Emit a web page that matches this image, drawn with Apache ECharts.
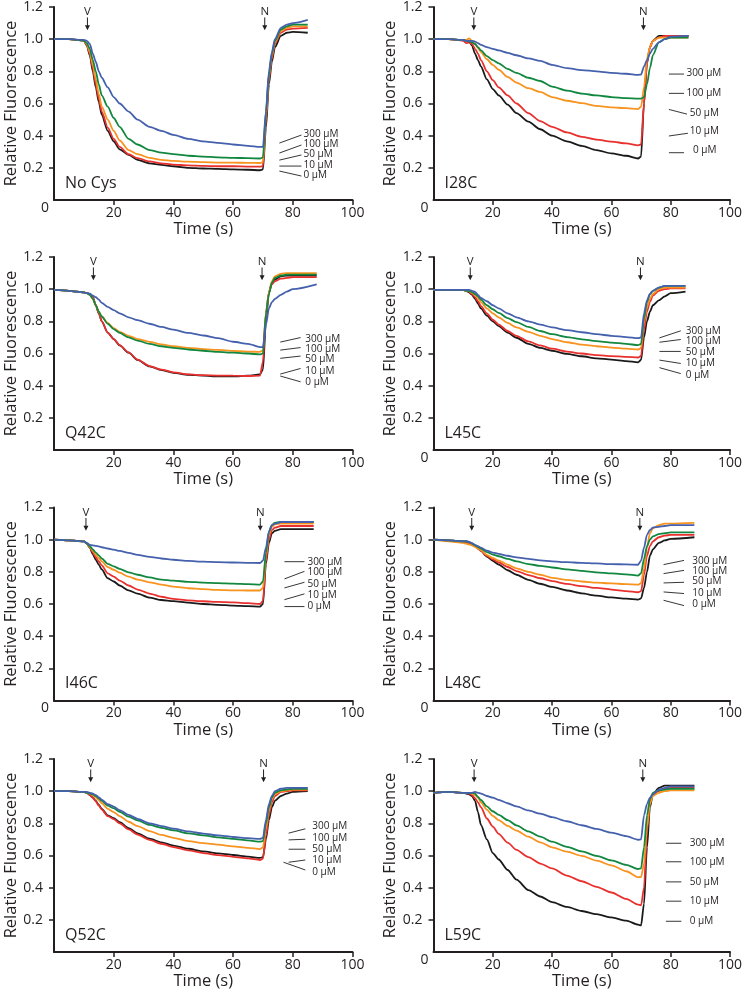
<!DOCTYPE html>
<html><head><meta charset="utf-8">
<script src="https://cdn.jsdelivr.net/npm/echarts@6/dist/echarts.min.js"></script>
<style>html,body{margin:0;padding:0;background:#fff}#c{width:745px;height:995px}</style>
</head><body><div id="c"></div>
<script>
// ---------- DATA ----------
const time = [0,5,10,11,12,13,14,15,16,18,20,22,25,28,32,36,40,45,50,55,60,65,69,70,71,72,73,74,76,78,80];
const endTime = [85,86,88,85,87,88,85,88];
const panelNames = ['No Cys','I28C','Q42C','L45C','I46C','L48C','Q52C','L59C'];
const concLabels = ['300 μM','100 μM','50 μM','10 μM','0 μM'];
const xTicks = [0,20,40,60,80,100];
const yTicks = [0.2,0.4,0.6,0.8,1.0,1.2];

// No Cys
const noCys_0   = [1.0,1.0,0.99,0.96,0.9,0.8,0.7,0.61,0.53,0.43,0.365,0.315,0.28,0.25,0.228,0.218,0.21,0.2,0.196,0.193,0.19,0.188,0.185,0.19,0.45,0.72,0.86,0.95,1.02,1.04,1.045,1.04];
const noCys_10  = [1.0,1.0,0.99,0.965,0.91,0.82,0.72,0.63,0.55,0.45,0.38,0.33,0.285,0.26,0.24,0.228,0.22,0.215,0.212,0.21,0.21,0.208,0.207,0.21,0.5,0.75,0.88,0.97,1.04,1.06,1.065,1.07];
const noCys_50  = [1.0,1.0,0.99,0.97,0.92,0.84,0.75,0.66,0.58,0.5,0.43,0.37,0.31,0.285,0.262,0.25,0.243,0.238,0.235,0.233,0.232,0.231,0.23,0.235,0.52,0.77,0.9,0.98,1.05,1.07,1.08,1.08];
const noCys_100 = [1.0,1.0,0.99,0.975,0.94,0.87,0.8,0.72,0.65,0.58,0.51,0.455,0.38,0.345,0.31,0.295,0.285,0.275,0.27,0.265,0.262,0.26,0.258,0.265,0.55,0.78,0.91,0.99,1.06,1.08,1.09,1.09];
const noCys_300 = [1.0,1.0,0.995,0.99,0.97,0.91,0.86,0.8,0.76,0.7,0.64,0.6,0.55,0.5,0.455,0.43,0.405,0.38,0.365,0.355,0.345,0.337,0.33,0.33,0.55,0.8,0.92,1.0,1.07,1.09,1.1,1.12];
// I28C
const i28c_0   = [1.0,1.0,0.995,0.99,0.985,0.96,0.91,0.87,0.83,0.75,0.69,0.65,0.593,0.54,0.487,0.44,0.40,0.365,0.337,0.31,0.29,0.275,0.258,0.27,0.6,0.85,0.95,0.99,1.02,1.02,1.02,1.02];
const i28c_10  = [1.0,1.0,0.99,0.975,0.98,0.97,0.94,0.91,0.87,0.8,0.745,0.7,0.65,0.6,0.54,0.49,0.455,0.42,0.393,0.375,0.363,0.352,0.34,0.345,0.6,0.85,0.95,0.99,1.01,1.02,1.02,1.02];
const i28c_50  = [1.0,1.0,0.995,0.995,1.005,0.99,0.97,0.945,0.92,0.875,0.84,0.81,0.765,0.73,0.695,0.672,0.64,0.617,0.602,0.585,0.576,0.571,0.565,0.58,0.7,0.88,0.95,0.99,1.01,1.01,1.01,1.01];
const i28c_100 = [1.0,1.0,0.995,0.99,0.985,0.98,0.97,0.95,0.93,0.895,0.87,0.85,0.815,0.79,0.76,0.74,0.705,0.68,0.662,0.65,0.64,0.633,0.63,0.63,0.64,0.72,0.82,0.9,0.98,1.0,1.01,1.01];
const i28c_300 = [1.0,1.0,0.995,0.99,0.99,0.99,0.985,0.975,0.965,0.95,0.94,0.93,0.915,0.9,0.88,0.865,0.84,0.82,0.808,0.8,0.79,0.785,0.778,0.78,0.83,0.87,0.91,0.94,0.98,1.0,1.015,1.02];
// Q42C
const q42c_0   = [0.995,0.99,0.98,0.975,0.97,0.95,0.9,0.85,0.8,0.73,0.69,0.65,0.605,0.56,0.52,0.497,0.48,0.468,0.462,0.458,0.458,0.462,0.47,0.5,0.8,0.98,1.04,1.06,1.08,1.085,1.085,1.085];
const q42c_10  = [0.995,0.99,0.98,0.975,0.97,0.95,0.9,0.85,0.8,0.73,0.69,0.652,0.607,0.562,0.522,0.5,0.483,0.47,0.465,0.463,0.462,0.46,0.463,0.55,0.85,0.98,1.03,1.05,1.065,1.07,1.075,1.075];
const q42c_50  = [0.995,0.99,0.98,0.975,0.965,0.94,0.9,0.86,0.83,0.79,0.757,0.735,0.71,0.69,0.672,0.657,0.645,0.635,0.627,0.622,0.616,0.612,0.61,0.62,0.85,0.98,1.05,1.08,1.095,1.1,1.1,1.1];
const q42c_100 = [0.995,0.99,0.98,0.975,0.965,0.94,0.9,0.86,0.83,0.785,0.752,0.728,0.7,0.68,0.66,0.645,0.635,0.625,0.617,0.61,0.605,0.6,0.594,0.6,0.85,0.97,1.04,1.07,1.085,1.09,1.09,1.09];
const q42c_300 = [0.995,0.99,0.98,0.975,0.972,0.96,0.95,0.935,0.915,0.89,0.87,0.85,0.825,0.807,0.785,0.765,0.748,0.728,0.712,0.695,0.673,0.66,0.64,0.64,0.78,0.88,0.92,0.94,0.965,0.985,1.0,1.03];
// L45C
const l45c_0   = [0.995,0.995,0.995,0.99,0.98,0.965,0.94,0.91,0.88,0.835,0.8,0.77,0.73,0.698,0.66,0.635,0.617,0.598,0.583,0.57,0.562,0.553,0.545,0.56,0.7,0.8,0.86,0.9,0.93,0.955,0.975,0.985];
const l45c_10  = [0.995,0.995,0.995,0.99,0.985,0.97,0.95,0.925,0.895,0.85,0.81,0.78,0.74,0.71,0.675,0.65,0.63,0.612,0.6,0.59,0.584,0.579,0.575,0.585,0.75,0.86,0.92,0.96,0.99,1.0,1.005,1.005];
const l45c_50  = [0.995,0.995,0.995,0.99,0.988,0.978,0.962,0.945,0.92,0.88,0.85,0.825,0.79,0.762,0.735,0.71,0.69,0.67,0.655,0.645,0.637,0.63,0.625,0.635,0.8,0.89,0.94,0.97,1.0,1.01,1.01,1.01];
const l45c_100 = [0.995,0.995,0.995,0.99,0.99,0.982,0.97,0.955,0.935,0.9,0.875,0.852,0.82,0.795,0.765,0.74,0.72,0.702,0.688,0.677,0.668,0.66,0.652,0.66,0.82,0.92,0.97,0.99,1.01,1.02,1.02,1.02];
const l45c_300 = [0.995,0.995,0.995,0.995,0.995,0.99,0.983,0.965,0.945,0.925,0.9,0.88,0.85,0.825,0.8,0.78,0.762,0.745,0.732,0.72,0.71,0.702,0.695,0.7,0.85,0.93,0.97,0.99,1.01,1.02,1.02,1.02];
// I46C
const i46c_0   = [1.0,0.995,0.99,0.975,0.95,0.91,0.875,0.845,0.815,0.76,0.74,0.715,0.685,0.665,0.64,0.625,0.618,0.608,0.6,0.595,0.59,0.587,0.584,0.6,0.85,0.98,1.04,1.055,1.065,1.065,1.065,1.065];
const i46c_10  = [1.0,0.995,0.99,0.975,0.955,0.92,0.89,0.865,0.84,0.79,0.77,0.745,0.715,0.69,0.665,0.645,0.632,0.623,0.617,0.613,0.61,0.605,0.6,0.62,0.87,1.0,1.06,1.075,1.085,1.085,1.085,1.085];
const i46c_50  = [1.0,0.995,0.99,0.975,0.955,0.93,0.905,0.886,0.865,0.83,0.813,0.795,0.77,0.752,0.735,0.72,0.708,0.698,0.692,0.688,0.685,0.684,0.684,0.7,0.9,1.03,1.08,1.095,1.1,1.1,1.1,1.1];
const i46c_100 = [1.0,0.995,0.99,0.975,0.96,0.94,0.92,0.902,0.883,0.85,0.834,0.818,0.797,0.782,0.765,0.752,0.745,0.738,0.733,0.73,0.727,0.724,0.72,0.74,0.92,1.05,1.09,1.105,1.11,1.11,1.11,1.11];
const i46c_300 = [1.0,0.995,0.99,0.98,0.967,0.965,0.962,0.958,0.953,0.945,0.938,0.93,0.918,0.905,0.893,0.883,0.875,0.868,0.863,0.86,0.858,0.856,0.855,0.87,0.95,1.05,1.09,1.1,1.11,1.11,1.11,1.11];
// L48C
const l48c_0   = [1.0,0.995,0.99,0.99,0.985,0.975,0.96,0.945,0.93,0.895,0.868,0.845,0.81,0.782,0.75,0.726,0.706,0.684,0.666,0.652,0.641,0.633,0.627,0.635,0.7,0.8,0.9,0.94,0.98,0.995,1.005,1.015];
const l48c_10  = [1.0,0.995,0.985,0.98,0.975,0.968,0.958,0.945,0.93,0.9,0.877,0.858,0.83,0.805,0.78,0.76,0.742,0.725,0.711,0.7,0.69,0.68,0.673,0.68,0.78,0.9,0.96,0.99,1.015,1.025,1.03,1.03];
const l48c_50  = [1.0,0.99,0.98,0.975,0.97,0.965,0.955,0.945,0.935,0.905,0.887,0.87,0.845,0.822,0.8,0.782,0.763,0.75,0.74,0.733,0.728,0.724,0.72,0.73,0.82,0.95,1.04,1.07,1.09,1.1,1.1,1.105];
const l48c_100 = [1.0,0.995,0.99,0.99,0.985,0.975,0.965,0.955,0.945,0.923,0.907,0.897,0.88,0.865,0.848,0.837,0.827,0.815,0.806,0.797,0.79,0.784,0.777,0.79,0.88,0.96,1.0,1.02,1.035,1.04,1.045,1.045];
const l48c_300 = [1.0,0.995,0.99,0.99,0.985,0.978,0.968,0.96,0.95,0.932,0.92,0.912,0.9,0.89,0.88,0.871,0.865,0.86,0.856,0.852,0.848,0.846,0.844,0.87,0.95,1.03,1.06,1.075,1.08,1.085,1.09,1.09];
// Q52C
const q52c_0   = [1.0,1.0,0.995,0.99,0.975,0.96,0.94,0.915,0.89,0.85,0.832,0.807,0.77,0.738,0.705,0.682,0.662,0.642,0.626,0.613,0.603,0.593,0.585,0.59,0.7,0.82,0.9,0.94,0.97,0.985,0.995,1.0];
const q52c_10  = [1.0,1.0,0.995,0.99,0.975,0.958,0.937,0.91,0.885,0.845,0.826,0.8,0.762,0.73,0.697,0.673,0.653,0.632,0.615,0.602,0.592,0.582,0.572,0.58,0.72,0.85,0.93,0.97,0.995,1.0,1.005,1.005];
const q52c_50  = [1.0,1.0,0.995,0.99,0.985,0.975,0.96,0.945,0.925,0.89,0.87,0.845,0.81,0.783,0.752,0.728,0.71,0.69,0.677,0.667,0.657,0.648,0.64,0.65,0.77,0.88,0.95,0.98,1.0,1.005,1.01,1.01];
const q52c_100 = [1.0,1.0,0.995,0.99,0.985,0.98,0.97,0.955,0.94,0.91,0.894,0.872,0.842,0.818,0.79,0.772,0.757,0.738,0.725,0.713,0.703,0.694,0.686,0.69,0.8,0.9,0.96,0.99,1.005,1.01,1.015,1.015];
const q52c_300 = [1.0,1.0,0.995,0.995,0.99,0.985,0.975,0.962,0.948,0.92,0.904,0.882,0.852,0.828,0.8,0.783,0.767,0.75,0.736,0.725,0.715,0.708,0.703,0.71,0.82,0.92,0.97,1.0,1.015,1.02,1.02,1.02];
// L59C
const l59c_0   = [0.99,0.995,0.99,0.985,0.98,0.97,0.94,0.87,0.79,0.7,0.615,0.575,0.51,0.45,0.385,0.345,0.31,0.28,0.255,0.235,0.215,0.195,0.17,0.165,0.3,0.65,0.9,0.98,1.02,1.035,1.035,1.035];
const l59c_10  = [0.99,0.995,0.99,0.99,0.985,0.975,0.955,0.93,0.9,0.83,0.78,0.735,0.68,0.635,0.59,0.55,0.52,0.475,0.44,0.405,0.37,0.33,0.295,0.29,0.4,0.75,0.93,0.98,1.0,1.015,1.02,1.02];
const l59c_50  = [0.99,0.995,0.99,0.99,0.99,0.985,0.975,0.96,0.93,0.885,0.846,0.82,0.784,0.755,0.717,0.682,0.651,0.624,0.598,0.568,0.539,0.502,0.465,0.465,0.55,0.78,0.92,0.97,0.99,1.0,1.005,1.005];
const l59c_100 = [0.99,0.995,0.99,0.99,0.99,0.99,0.985,0.965,0.945,0.906,0.875,0.853,0.82,0.787,0.75,0.717,0.686,0.654,0.626,0.598,0.57,0.542,0.516,0.52,0.65,0.85,0.95,0.99,1.005,1.01,1.015,1.015];
const l59c_300 = [0.99,0.995,0.99,0.99,0.99,0.99,0.995,0.99,0.985,0.97,0.96,0.946,0.925,0.905,0.88,0.86,0.838,0.813,0.788,0.765,0.742,0.72,0.698,0.7,0.85,0.92,0.96,0.98,1.01,1.02,1.03,1.03];

// series per panel, ordered 0,10,50,100,300 µM (drawing order)
const panelSeries = [
  [noCys_0, noCys_10, noCys_50, noCys_100, noCys_300],
  [i28c_0, i28c_10, i28c_50, i28c_100, i28c_300],
  [q42c_0, q42c_10, q42c_50, q42c_100, q42c_300],
  [l45c_0, l45c_10, l45c_50, l45c_100, l45c_300],
  [i46c_0, i46c_10, i46c_50, i46c_100, i46c_300],
  [l48c_0, l48c_10, l48c_50, l48c_100, l48c_300],
  [q52c_0, q52c_10, q52c_50, q52c_100, q52c_300],
  [l59c_0, l59c_10, l59c_50, l59c_100, l59c_300]
];
const seriesConc = ['0 μM','10 μM','50 μM','100 μM','300 μM'];
const vTime = [11.2,13.6,13.2,12.4,10.7,12.9,12.3,13.7];
const nTime = [70.6,70.8,69.7,69.8,69.1,69.6,70.2,70.6];
const showZero = [true,true,false,true,true,true,false,true];

// ---------- STYLE / LAYOUT ----------
const colors = ['#1a1a1a','#e8312f','#f7931e','#11873f','#4561ad'];
const ink = '#231f20';
const FONT = "'Open Sans','Noto Sans',sans-serif";
const colLeft = [54, 433.5];
const rowTop = [7, 257, 507.5, 759];
const gW = 298.5, gH = 193;

// legend annotation layout (data coords): [textT, textV, lineT1, lineV1, lineT2, lineV2] for 300,100,50,10,0
const legendLayout = [
  [[83.6,.41,75.5,.354,82.9,.404],[83.6,.348,75.5,.292,82.9,.342],[83.6,.283,75.5,.248,82.9,.28],[83.6,.217,75.5,.211,82.9,.211],[83.6,.155,75.5,.18,82.9,.149]],
  [[85.3,.787,79.4,.783,84.5,.783],[85.3,.663,79.4,.663,84.5,.663],[86.4,.542,79.4,.563,85.5,.534],[86.4,.428,79.4,.398,85.8,.415],[87.5,.311,79.4,.294,84.5,.294]],
  [[84.2,.689,75.8,.671,82.6,.699],[84.2,.625,75.8,.621,82.6,.637],[84.2,.563,75.8,.570,82.6,.584],[84.2,.493,75.8,.472,82.6,.507],[84.2,.424,75.8,.460,82.6,.424]],
  [[85.1,.741,76.2,.697,83.4,.741],[85.1,.675,76.2,.670,83.4,.687],[85.1,.609,76.2,.613,83.4,.613],[85.1,.538,76.2,.559,83.4,.538],[85.1,.468,76.2,.512,83.4,.475]],
  [[84.9,.858,77.2,.863,83.9,.863],[84.9,.797,77.2,.756,83.9,.803],[84.9,.725,77.2,.700,83.9,.735],[84.9,.656,77.2,.627,83.9,.663],[84.9,.585,77.2,.584,83.9,.584]],
  [[87.3,.865,77.6,.845,84.5,.871],[87.3,.803,77.6,.789,84.5,.809],[87.3,.739,77.6,.731,84.5,.735],[87.3,.665,77.6,.675,84.5,.665],[87.3,.596,77.6,.623,84.5,.590]],
  [[86.5,.78,78.6,.739,84.2,.766],[86.5,.708,78.6,.697,84.2,.701],[86.5,.639,78.6,.639,84.2,.639],[86.5,.568,78.6,.558,84.2,.572],[86.5,.499,76.9,.558,84.2,.51]],
  [[86.4,.676,78.4,.676,83.6,.676],[86.4,.561,78.4,.561,83.6,.561],[86.4,.436,78.4,.436,83.6,.436],[86.4,.316,78.4,.316,83.6,.316],[86.4,.191,78.4,.191,83.6,.191]]
];

const chart = echarts.init(document.getElementById('c'), null, {renderer:'canvas'});
const grids = [], xAxes = [], yAxes = [], series = [];
for (let i = 0; i < 8; i++) {
  const col = i % 2, row = Math.floor(i / 2);
  grids.push({left: colLeft[col], top: rowTop[row], width: gW, height: gH});
  xAxes.push({
    type:'value', gridIndex:i, min:xTicks[0], max:xTicks[xTicks.length-1], interval:20,
    name:'Time (s)', nameLocation:'middle', nameGap:21,
    nameTextStyle:{fontFamily:FONT, fontSize:16.5, color:ink},
    axisLine:{show:true, onZero:false, lineStyle:{color:ink, width:2}},
    axisTick:{show:true, length:5, lineStyle:{color:ink, width:1.5}},
    axisLabel:{fontFamily:FONT, fontSize:14, color:ink, margin:6, showMinLabel:false,
      formatter: v => String(v)},
    splitLine:{show:false}
  });
  yAxes.push({
    type:'value', gridIndex:i, min:0, max:1.2, interval:0.2,
    name:'Relative Fluorescence', nameLocation:'middle', nameGap:33, nameRotate:90,
    nameTextStyle:{fontFamily:FONT, fontSize:16.5, color:ink},
    axisLine:{show:true, onZero:false, lineStyle:{color:ink, width:2}},
    axisTick:{show:true, length:5, lineStyle:{color:ink, width:1.5}},
    axisLabel:{fontFamily:FONT, fontSize:14, color:ink, margin:11, showMinLabel:false,
      formatter: v => yTicks.some(t => Math.abs(t - v) < 1e-6) ? v.toFixed(1) : ''},
    splitLine:{show:false}
  });
  const tAll = time.concat([endTime[i]]);
  panelSeries[i].forEach((vals, k) => {
    series.push({
      type:'line', name: panelNames[i] + ' ' + seriesConc[k], xAxisIndex:i, yAxisIndex:i,
      data: tAll.map((t, j) => [t, vals[j]]),
      showSymbol:false, smooth:0.25, smoothMonotone:'x',
      lineStyle:{color:colors[k], width:1.8}, itemStyle:{color:colors[k]},
      silent:true, animation:false
    });
  });
}
chart.setOption({
  animation:false, backgroundColor:'#fff',
  textStyle:{fontFamily:FONT},
  grid:grids, xAxis:xAxes, yAxis:yAxes, series:series
});

// annotations positioned through the axes
const g = [];
const P = (i, t, v) => chart.convertToPixel({gridIndex:i}, [t, v]);
for (let i = 0; i < 8; i++) {
  // panel label
  const pl = P(i, 3.7, 0.105);
  g.push({type:'text', x:pl[0], y:pl[1], style:{text:panelNames[i], fontFamily:FONT, fontSize:16, fill:ink, align:'left', verticalAlign:'middle'}});
  // origin "0"
  if (showZero[i]) {
    const o = P(i, 0, 0);
    g.push({type:'text', x:o[0]-9, y:o[1]+8, style:{text:'0', fontFamily:FONT, fontSize:14, fill:ink, align:'center', verticalAlign:'middle'}});
  }
  // V and N arrows
  [[vTime[i],'V'],[nTime[i],'N']].forEach(([t, lab]) => {
    const a = P(i, t, 1.17), b = P(i, t, 1.135), c = P(i, t, 1.055);
    g.push({type:'text', x:a[0], y:a[1], style:{text:lab, fontFamily:FONT, fontSize:11.5, fill:ink, align:'center', verticalAlign:'middle'}});
    g.push({type:'line', shape:{x1:b[0], y1:b[1], x2:c[0], y2:c[1]-3}, style:{stroke:ink, lineWidth:1}});
    g.push({type:'polygon', shape:{points:[[c[0]-2.5,c[1]-5],[c[0]+2.5,c[1]-5],[c[0],c[1]]]}, style:{fill:ink}});
  });
  // concentration labels with leader lines
  legendLayout[i].forEach((L, k) => {
    const tp = P(i, L[0], L[1]), p1 = P(i, L[2], L[3]), p2 = P(i, L[4], L[5]);
    g.push({type:'line', shape:{x1:p1[0], y1:p1[1], x2:p2[0], y2:p2[1]}, style:{stroke:ink, lineWidth:0.9}});
    g.push({type:'text', x:tp[0], y:tp[1], style:{text:concLabels[k], fontFamily:FONT, fontSize:10, fill:ink, align:'left', verticalAlign:'middle'}});
  });
}
chart.setOption({graphic:{elements:g}});
</script>
</body></html>
